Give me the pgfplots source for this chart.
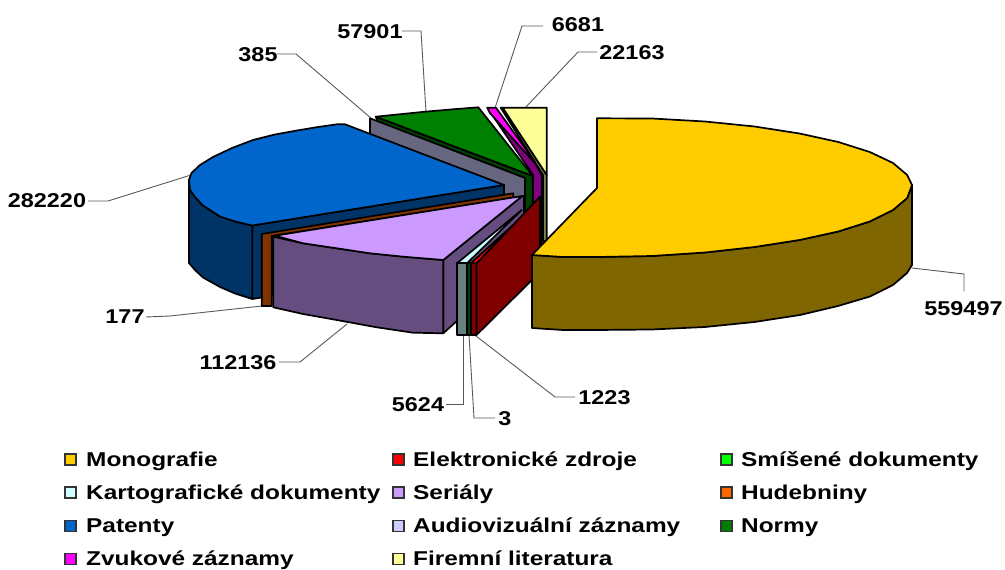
\documentclass[border=0pt]{standalone}
\usepackage{fontspec}
\usepackage{pgfplots}
\pgfplotsset{compat=1.18}
\newfontfamily\chartfont[FakeStretch=1.17]{Liberation Sans}
\newfontfamily\legendfont[FakeStretch=1.22]{Liberation Sans}
\definecolor{cMono}{HTML}{FFCC00}\definecolor{sMono}{HTML}{806600}
\definecolor{cElek}{HTML}{FF0000}\definecolor{sElek}{HTML}{800000}
\definecolor{cSmis}{HTML}{00FF00}\definecolor{sSmis}{HTML}{004000}
\definecolor{cKart}{HTML}{CCFFFF}\definecolor{sKart}{HTML}{668080}
\definecolor{cSeri}{HTML}{CC99FF}\definecolor{sSeri}{HTML}{664D80}
\definecolor{cHude}{HTML}{FF6600}\definecolor{sHude}{HTML}{803300}
\definecolor{cPate}{HTML}{0066CC}\definecolor{sPate}{HTML}{003366}
\definecolor{cAudi}{HTML}{CCCCFF}\definecolor{sAudi}{HTML}{666680}
\definecolor{cNorm}{HTML}{008000}\definecolor{sNorm}{HTML}{004000}
\definecolor{cZvuk}{HTML}{FF00FF}\definecolor{sZvuk}{HTML}{800080}
\definecolor{cFire}{HTML}{FFFF99}\definecolor{sFire}{HTML}{80804D}
\pgfplotsset{
  slice/.style={fill=#1,draw=black,line width=1.7pt,line join=round,no markers,forget plot},
  leader/.style={draw=black!65,line width=0.9pt,no markers,forget plot},
  swatch/.style={only marks,mark=square*,mark size=5.5pt,mark options={fill=#1,draw=black!80,line width=1.3pt},forget plot},
}
\tikzset{lbl/.style={font=\chartfont\bfseries\fontsize{20}{20}\selectfont,text=black,inner sep=0pt},
  leg/.style={font=\legendfont\bfseries\fontsize{20}{20}\selectfont,text=black,inner sep=0pt,anchor=base west}}
\begin{document}
\begin{tikzpicture}
\begin{axis}[at={(0,0)},anchor=south west,scale only axis,width=1005pt,height=568pt,
  xmin=0,xmax=1005,ymin=0,ymax=568,y dir=reverse,hide axis,clip=false]
% extent of the picture
\addplot[draw=none,forget plot] coordinates {(0,0)(1005,568)};
% leader lines
\addplot[leader] coordinates {(912,268)(964,274)(964,291)};
\addplot[leader] coordinates {(88,201)(108,201)(191,175)};
\addplot[leader] coordinates {(277,54)(296,54)(372,119)};
\addplot[leader] coordinates {(402,31)(421,31)(426,112)};
\addplot[leader] coordinates {(543,26)(522,26)(495,108)};
\addplot[leader] coordinates {(597,52)(578,52)(525,108)};
\addplot[leader] coordinates {(146,317)(170,316)(262,306)};
\addplot[leader] coordinates {(279,362)(300,362)(347,324)};
\addplot[leader] coordinates {(446,404)(463,404)(463,335)};
\addplot[leader] coordinates {(495,418)(474,418)(469,335)};
\addplot[leader] coordinates {(575,397)(555,397)(476,336)};
% Firemni literatura
\addplot[slice=sFire] coordinates {(500.7,107.7)(502.7,107.7)(546.7,175)(546.7,241)(543,241)(543,175)} -- cycle;
\addplot[slice=cFire] coordinates {(502.7,107.7)(546.7,107.7)(546.7,175)} -- cycle;
% Zvukove zaznamy
\addplot[slice=sZvuk] coordinates {(487.3,107.7)(490,113)(535,163)(541.7,175)(541.7,250)(533,250)(533,175)} -- cycle;
\addplot[slice=cZvuk] coordinates {(487.3,107.7)(496,107.7)(535,162)(535,163.3)(490,113)} -- cycle;
% Normy
\addplot[slice=sNorm] coordinates {(375.7,116.7)(532.7,176)(532.7,250)(525,250)(525,178)(378,122)} -- cycle;
\addplot[slice=cNorm] coordinates {(375.7,116.7)(425,111.7)(453,109.3)(478.3,107.3)(532.7,176)} -- cycle;
% Audiovizualni zaznamy
\addplot[slice=sAudi] coordinates {(370,118.3)(525,178)(525,245)(370,190)} -- cycle;
% Patenty
\addplot[slice=sPate] coordinates {(252.3,225.5)(504,185)(504,258)(252.3,299)} -- cycle;
\addplot[slice=sPate] coordinates {(252.3,225.5)(235,221.5)(220,216.5)(203,205.5)(195,197)(190,190)(189,180)(189,263)(195,270)(203,277.5)(220,287)(235,293.5)(252.3,299)} -- cycle;
\addplot[slice=cPate] coordinates {(252.3,225.5)(235,221.5)(220,216.5)(203,205.5)(195,197)(190,190)(189,180)(191.5,173)(200,165)(213,157)(232,148)(253,140)(275,134.5)(297,130.5)(318,127)(337,124.3)(345,124.3)(504,185)} -- cycle;
% Hudebniny
\addplot[slice=sHude] coordinates {(261.7,234)(513.3,193.3)(513.3,198)(271.7,236)(271.7,306)(261.7,306)} -- cycle;
% Serialy
\addplot[slice=sSeri] coordinates {(443.3,260)(522.3,196)(524,196)(524,260)(443.3,333.3)} -- cycle;
\addplot[slice=sSeri] coordinates {(273.3,236.7)(303,243.3)(336.7,248.3)(370,253.3)(403.3,256.7)(443.3,260)(443.3,333.3)(413,332.7)(376.7,327.3)(336.7,320)(303,314)(273.3,307.3)} -- cycle;
\addplot[slice=cSeri] coordinates {(275,235.7)(522.3,196)(443.3,260)(403.3,256.7)(370,253.3)(336.7,248.3)(303,243.3)} -- cycle;
% Kartograficke dokumenty
\addplot[slice=sKart] coordinates {(457.3,263.3)(467.3,263.3)(467.3,335)(457.3,335)} -- cycle;
\addplot[slice=cKart] coordinates {(457.3,263)(467.3,263)(521.7,210)} -- cycle;
% Smisene dokumenty
\addplot[slice=sSmis] coordinates {(467.3,263.3)(470.7,263.3)(470.7,335)(467.3,335)} -- cycle;
% Elektronicke zdroje
\addplot[slice=sElek] coordinates {(470.7,263.3)(476.5,263.3)(476.5,335)(470.7,335)} -- cycle;
\addplot[slice=sElek] coordinates {(476.5,263.3)(540,196.7)(540,272)(476.5,335)} -- cycle;
\addplot[slice=cElek] coordinates {(470.7,263.3)(476.5,263.3)(512,226)} -- cycle;
% Monografie
\addplot[slice=sMono] coordinates {(532,255)(563,257)(597,257)(652,256)(705,252.5)(754.5,247)(799.5,240)(838.3,231.5)(869.8,221.5)(893,210)(907.2,198)(912,185)(912,265)(907,273)(893,285)(870,296.5)(838,306)(800,315)(754.5,322)(705,327)(652,329.5)(597,330)(563,330)(532,328)} -- cycle;
\addplot[slice=cMono] coordinates {(597,118.3)(652,118.5)(705,121.5)(754.5,126.5)(799.5,133.5)(838.3,142)(869.8,152)(893,163)(907.2,175)(912,185)(907.2,198)(893,210)(869.8,221.5)(838.3,231.5)(799.5,240)(754.5,247)(705,252.5)(652,256)(597,257)(563,257)(532,255)(597,188)} -- cycle;
% data labels
\node[lbl] at (axis cs:963.5,308.5) {559497};
\node[lbl] at (axis cs:47,200.5) {282220};
\node[lbl] at (axis cs:258,54.5) {385};
\node[lbl] at (axis cs:370,31.5) {57901};
\node[lbl] at (axis cs:578,24.5) {6681};
\node[lbl] at (axis cs:632,52.5) {22163};
\node[lbl] at (axis cs:125,316.5) {177};
\node[lbl] at (axis cs:238,362.5) {112136};
\node[lbl] at (axis cs:418,404.5) {5624};
\node[lbl] at (axis cs:505,418.5) {3};
\node[lbl] at (axis cs:604.5,397.5) {1223};
% legend
\addplot[swatch=cMono] coordinates {(70.5,459.5)};
\addplot[swatch=cElek] coordinates {(398.5,459.5)};
\addplot[swatch=cSmis] coordinates {(726.5,459.5)};
\addplot[swatch=cKart] coordinates {(70.5,492.5)};
\addplot[swatch=cSeri] coordinates {(398.5,492.5)};
\addplot[swatch=cHude] coordinates {(726.5,492.5)};
\addplot[swatch=cPate] coordinates {(70.5,526)};
\addplot[swatch=cAudi] coordinates {(398.5,526)};
\addplot[swatch=cNorm] coordinates {(726.5,526)};
\addplot[swatch=cZvuk] coordinates {(70.5,559)};
\addplot[swatch=cFire] coordinates {(398.5,559)};
\node[leg] at (axis cs:86,466) {Monografie};
\node[leg] at (axis cs:413,466) {Elektronické zdroje};
\node[leg] at (axis cs:741,466) {Smíšené dokumenty};
\node[leg] at (axis cs:86,499) {Kartografické dokumenty};
\node[leg] at (axis cs:413,499) {Seriály};
\node[leg] at (axis cs:741,499) {Hudebniny};
\node[leg] at (axis cs:86,532.5) {Patenty};
\node[leg] at (axis cs:413,532.5) {Audiovizuální záznamy};
\node[leg] at (axis cs:741,532.5) {Normy};
\node[leg] at (axis cs:86,565.5) {Zvukové záznamy};
\node[leg] at (axis cs:413,565.5) {Firemní literatura};
\end{axis}
\end{tikzpicture}
\end{document}
